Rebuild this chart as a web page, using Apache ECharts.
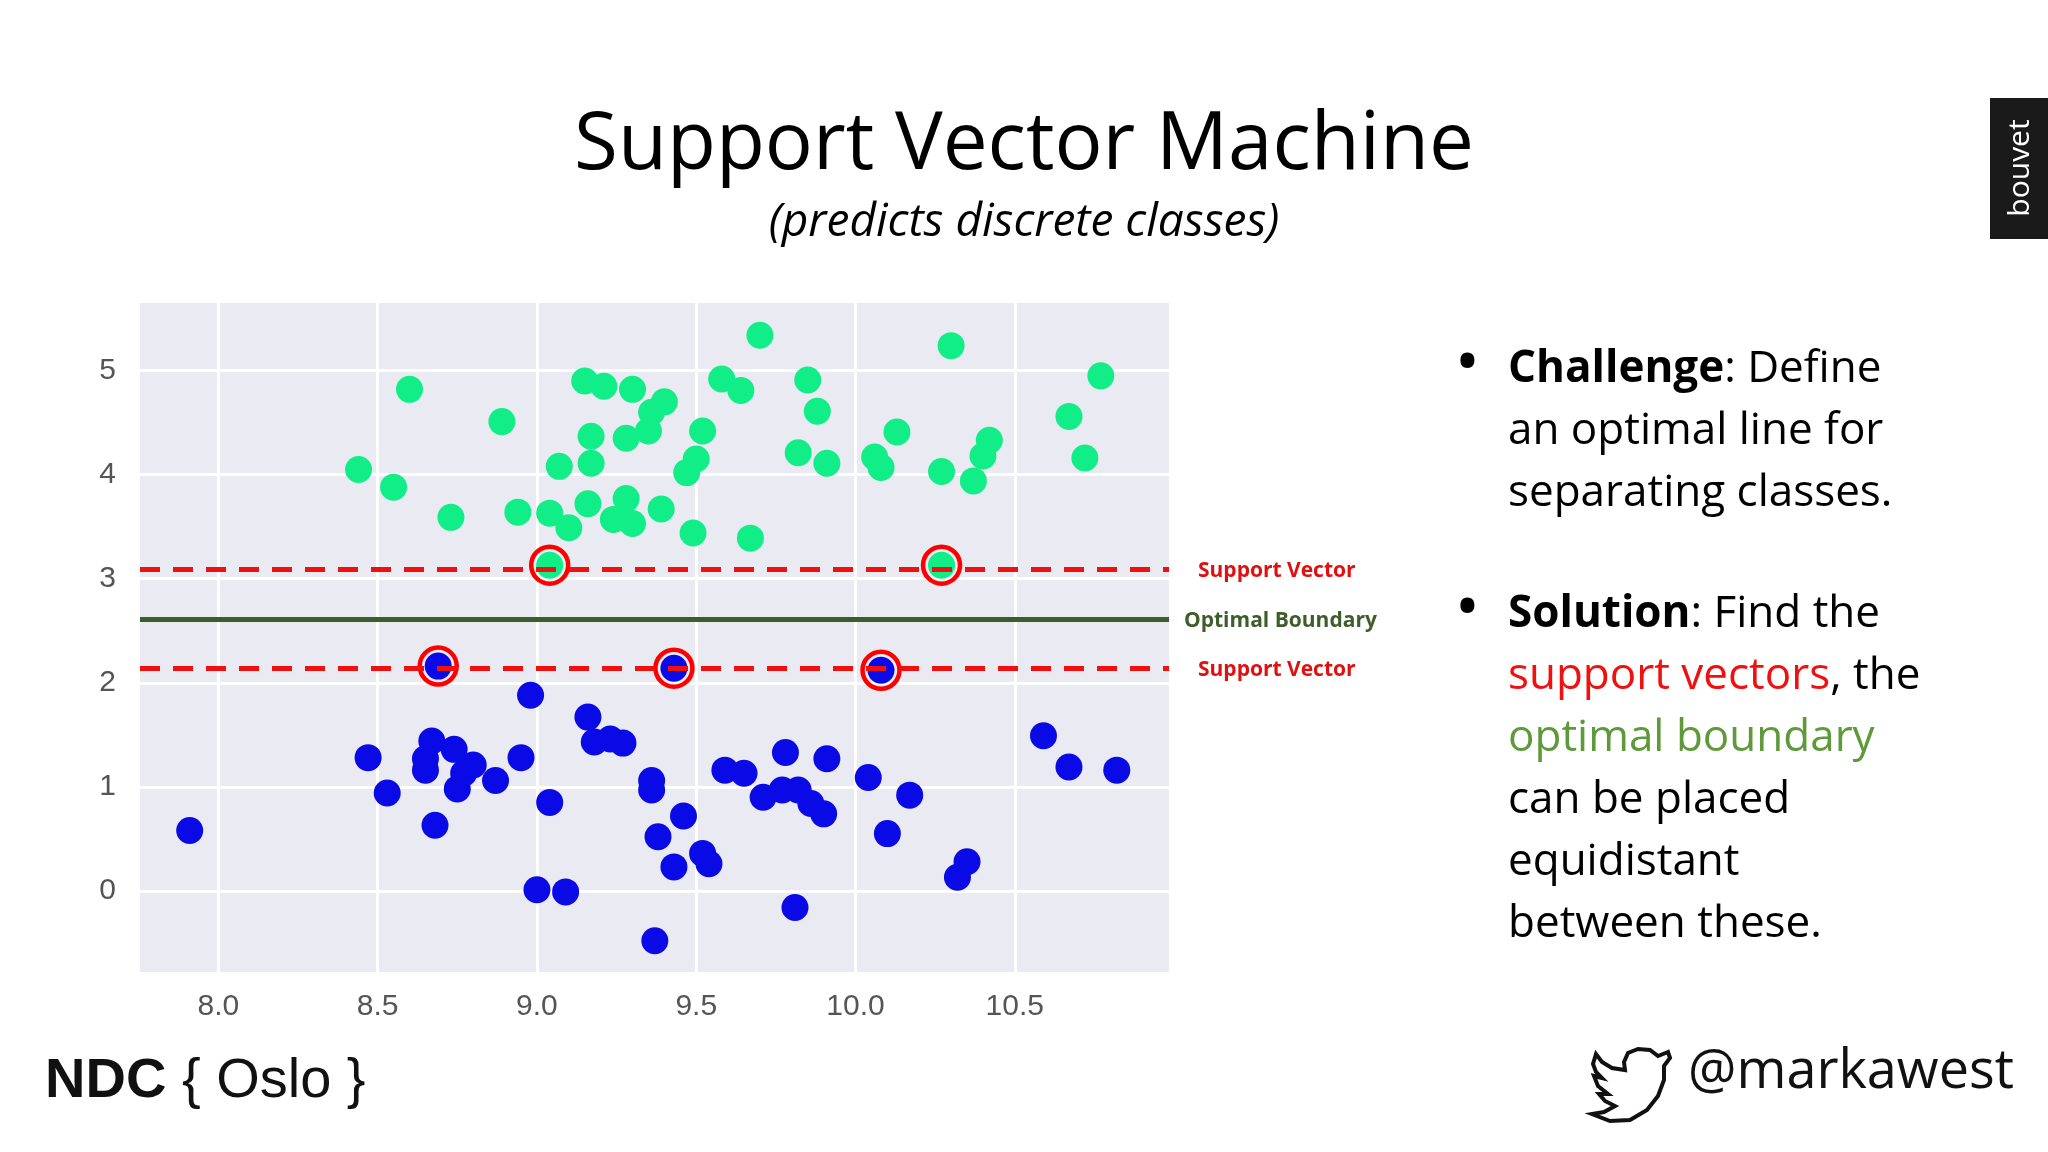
<!DOCTYPE html>
<html>
<head>
<meta charset="utf-8">
<script src="https://cdn.jsdelivr.net/npm/echarts@6/dist/echarts.min.js"></script>
<style>
  html, body { margin: 0; padding: 0; background: #fff; }
  #main { width: 2048px; height: 1152px; }
</style>
</head>
<body>
<div id="main"></div>
<script>
// class A (upper, green)
const greenPoints = [
  [8.44,4.05],[8.55,3.88],[8.60,4.82],[8.73,3.59],[8.89,4.51],[8.94,3.64],[9.04,3.13],[9.04,3.63],
  [9.07,4.08],[9.10,3.49],[9.15,4.90],[9.16,3.72],[9.17,4.37],[9.17,4.11],[9.21,4.85],[9.24,3.57],
  [9.28,3.77],[9.28,4.35],[9.30,4.82],[9.30,3.53],[9.35,4.42],[9.36,4.60],[9.40,4.70],[9.39,3.67],
  [9.47,4.02],[9.49,3.44],[9.50,4.15],[9.52,4.42],[9.58,4.92],[9.64,4.81],[9.67,3.39],[9.70,5.34],
  [9.82,4.21],[9.85,4.91],[9.88,4.61],[9.91,4.11],[10.06,4.17],[10.08,4.07],[10.13,4.41],[10.27,4.03],
  [10.27,3.13],[10.30,5.24],[10.37,3.94],[10.40,4.18],[10.42,4.33],[10.67,4.56],[10.72,4.16],[10.77,4.95]
];
// class B (lower, blue)
const bluePoints = [
  [7.91,0.58],[8.47,1.28],[8.53,0.94],[8.65,1.16],[8.65,1.27],[8.67,1.44],[8.68,0.63],[8.69,2.16],
  [8.74,1.36],[8.75,0.98],[8.77,1.13],[8.80,1.21],[8.87,1.06],[8.95,1.28],[8.98,1.88],[9.00,0.01],
  [9.04,0.85],[9.09,-0.01],[9.16,1.67],[9.18,1.43],[9.23,1.46],[9.27,1.42],[9.36,1.06],[9.36,0.97],
  [9.37,-0.48],[9.38,0.52],[9.43,2.14],[9.43,0.23],[9.46,0.72],[9.52,0.36],[9.54,0.26],[9.59,1.16],
  [9.65,1.13],[9.71,0.90],[9.78,1.33],[9.77,0.97],[9.82,0.97],[9.81,-0.16],[9.86,0.84],[9.90,0.74],
  [9.91,1.27],[10.04,1.09],[10.08,2.12],[10.10,0.55],[10.17,0.92],[10.32,0.13],[10.35,0.28],
  [10.59,1.49],[10.67,1.19],[10.82,1.16]
];
const supportVectors = [[9.04,3.13],[10.27,3.13],[8.69,2.16],[9.43,2.14],[10.08,2.12]];
const upperMargin = 3.09;
const lowerMargin = 2.14;
const boundary = 2.61;
const xTicks = [8.0, 8.5, 9.0, 9.5, 10.0, 10.5];
const yTicks = [0, 1, 2, 3, 4, 5];

const chart = echarts.init(document.getElementById('main'));
const font = '"Open Sans", sans-serif';

const option = {
  animation: false,
  backgroundColor: '#fff',
  grid: { left: 140, top: 303, width: 1029, height: 669, show: true, backgroundColor: '#eaeaf2', borderWidth: 0 },
  xAxis: {
    type: 'value', min: 7.754, max: 10.984,
    axisLine: { show: false }, axisTick: { show: false, customValues: xTicks },
    splitLine: { show: true, lineStyle: { color: '#fff', width: 3 } },
    axisLabel: { customValues: xTicks, formatter: v => v.toFixed(1), color: '#555', fontSize: 30, margin: 20, fontFamily: 'Liberation Sans, sans-serif' }
  },
  yAxis: {
    type: 'value', min: -0.78, max: 5.65,
    axisLine: { show: false }, axisTick: { show: false, customValues: yTicks },
    splitLine: { show: true, lineStyle: { color: '#fff', width: 3 } },
    axisLabel: { customValues: yTicks, color: '#555', fontSize: 30, margin: 24, fontFamily: 'Liberation Sans, sans-serif' }
  },
  series: [
    {
      type: 'scatter', data: greenPoints, symbolSize: 27,
      itemStyle: { color: '#11ee88', opacity: 1 }, z: 2
    },
    {
      type: 'scatter', data: bluePoints, symbolSize: 27,
      itemStyle: { color: '#0a0ae6', opacity: 1 }, z: 2,
      markLine: {
        silent: true, symbol: 'none', label: { show: false },
        data: [
          { yAxis: upperMargin, lineStyle: { color: '#f01010', width: 5, type: [20, 13] } },
          { yAxis: lowerMargin, lineStyle: { color: '#f01010', width: 5, type: [20, 13] } },
          { yAxis: boundary, lineStyle: { color: '#3d5e2a', width: 5, type: 'solid' } }
        ]
      }
    },
    {
      type: 'scatter', data: supportVectors, symbolSize: 37, z: 4,
      itemStyle: { color: 'rgba(0,0,0,0)', borderColor: '#f00', borderWidth: 4.5, opacity: 1 }
    }
  ],
  graphic: [
    { type: 'text', left: 'center', top: 106, style: { text: 'Support Vector Machine', font: '80px "Open Sans", sans-serif', fill: '#000' } },
    { type: 'text', left: 'center', top: 200, style: { text: '(predicts discrete classes)', font: 'italic 46px "Open Sans", sans-serif', fill: '#000' } },
    { type: 'text', left: 1198, top: 561, style: { text: 'Support Vector', font: 'bold 21px "Open Sans", sans-serif', fill: '#e01010' } },
    { type: 'text', left: 1184, top: 611, style: { text: 'Optimal Boundary', font: 'bold 21px "Open Sans", sans-serif', fill: '#3d5e2a' } },
    { type: 'text', left: 1198, top: 660, style: { text: 'Support Vector', font: 'bold 21px "Open Sans", sans-serif', fill: '#e01010' } },
    // bullets
    { type: 'text', left: 1458, top: 340, style: { text: '•', font: 'bold 50px "Open Sans", sans-serif', fill: '#000' } },
    { type: 'text', left: 1508, top: 338, style: {
      text: '{b|Challenge}: Define\nan optimal line for\nseparating classes.',
      font: '44px "Open Sans", sans-serif', fill: '#000', lineHeight: 62,
      rich: { b: { fontWeight: 'bold', fontSize: 44, fontFamily: font } } } },
    { type: 'text', left: 1458, top: 585, style: { text: '•', font: 'bold 50px "Open Sans", sans-serif', fill: '#000' } },
    { type: 'text', left: 1508, top: 583, style: {
      text: '{b|Solution}: Find the\n{r|support vectors}, the\n{g|optimal boundary}\ncan be placed\nequidistant\nbetween these.',
      font: '44px "Open Sans", sans-serif', fill: '#000', lineHeight: 62,
      rich: {
        b: { fontWeight: 'bold', fontSize: 44, fontFamily: font },
        r: { fill: '#f01010', fontSize: 44, fontFamily: font },
        g: { fill: '#5e9a3a', fontSize: 44, fontFamily: font }
      } } },
    // bouvet tab
    { type: 'rect', shape: { x: 1990, y: 98, width: 58, height: 141 }, style: { fill: '#1a1a1a' } },
    { type: 'text', x: 2020, y: 168, rotation: Math.PI / 2, style: { text: 'bouvet', font: '30px "Open Sans", sans-serif', fill: '#fff', align: 'center', verticalAlign: 'middle' } },
    // footer
    { type: 'text', left: 45, top: 1054, style: { text: '{b|NDC} { Oslo }', font: '56px "Liberation Sans", sans-serif', fill: '#111',
      rich: { b: { fontWeight: 'bold', fontSize: 56, fontFamily: 'Liberation Sans, sans-serif' } } } },
    { type: 'text', left: 1688, top: 1046, style: { text: '@markawest', font: '54px "Open Sans", sans-serif', fill: '#111' } },
    { type: 'polygon', x: 1592, y: 1044, shape: {
        points: [[76,8],[66,12],[58,6],[46,5],[36,9],[32,18],[33,26],[20,24],[10,18],[4,10],[1,20],[4,28],[10,34],[2,32],[6,42],[16,50],[7,50],[13,57],[23,62],[12,68],[0,70],[18,77],[38,76],[55,66],[66,52],[72,36],[72,22],[78,14]]
      }, style: { fill: 'none', stroke: '#111', lineWidth: 4 } }
  ]
};
chart.setOption(option);
</script>
</body>
</html>
